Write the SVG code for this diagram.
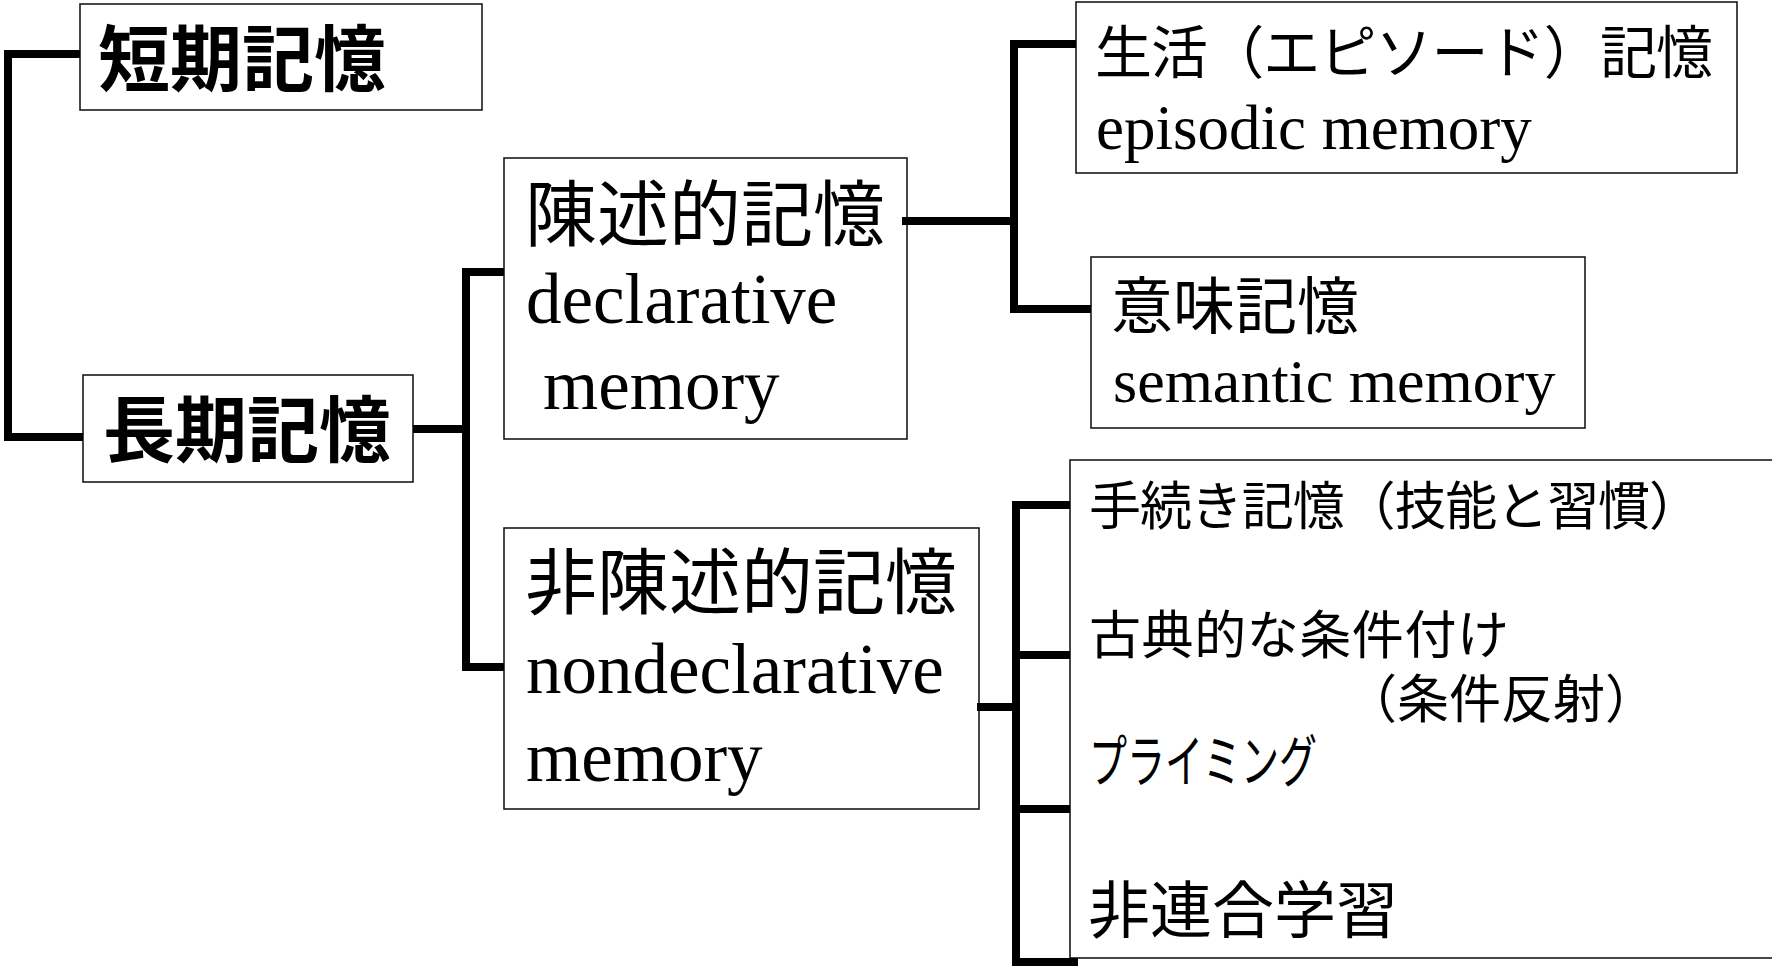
<svg xmlns="http://www.w3.org/2000/svg" width="1772" height="966" viewBox="0 0 1772 966">
<style>
.box{fill:#fff;stroke:#1a1a1a;stroke-width:1.6}
.conn{fill:none;stroke:#000;stroke-width:8;stroke-linejoin:miter;stroke-linecap:butt}
.jp{font-family:"Noto Sans CJK JP","Noto Sans CJK SC",sans-serif;fill:#000}
.jpb{font-family:"Noto Sans CJK JP","Noto Sans CJK SC",sans-serif;font-weight:700;fill:#000}
.en{font-family:"Liberation Serif","Times New Roman",serif;fill:#000}
</style>
<rect width="1772" height="966" fill="#fff"/>
<g id="short-term">
<rect class="box" x="80" y="4" width="402" height="106"/>
<text class="jpb" x="98" y="85" font-size="72">短期記憶</text>
</g>
<g id="long-term">
<rect class="box" x="83" y="375" width="330" height="107"/>
<text class="jpb" x="103" y="456" font-size="72">長期記憶</text>
</g>
<g id="declarative">
<rect class="box" x="504" y="158" width="403" height="281"/>
<text class="jp" x="525" y="240" font-size="72">陳述的記憶</text>
<text class="en" x="526" y="323" font-size="71">declarative</text>
<text class="en" x="543" y="409" font-size="71">memory</text>
</g>
<g id="nondeclarative">
<rect class="box" x="504" y="528" width="475" height="281"/>
<text class="jp" x="525" y="608" font-size="72">非陳述的記憶</text>
<text class="en" x="526" y="693" font-size="71">nondeclarative</text>
<text class="en" x="526" y="781" font-size="71">memory</text>
</g>
<g id="episodic">
<rect class="box" x="1076" y="2" width="661" height="171"/>
<text class="jp" x="1095" y="73" font-size="57" textLength="618" lengthAdjust="spacing">生活（エピソード）記憶</text>
<text class="en" x="1096" y="149" font-size="63">episodic memory</text>
</g>
<g id="semantic">
<rect class="box" x="1091" y="257" width="494" height="171"/>
<text class="jp" x="1111" y="329" font-size="62">意味記憶</text>
<text class="en" x="1113" y="402" font-size="62">semantic memory</text>
</g>
<g id="nondeclarative-types">
<rect class="box" x="1070" y="460" width="720" height="498"/>
<text class="jp" x="1089" y="525" font-size="52" textLength="612" lengthAdjust="spacing">手続き記憶（技能と習慣）</text>
<text class="jp" x="1089" y="654" font-size="52" textLength="420" lengthAdjust="spacing">古典的な条件付け</text>
<text class="jp" x="1345" y="718" font-size="52">（条件反射）</text>
<text class="jp" x="1089" y="782" font-size="57" textLength="228" lengthAdjust="spacingAndGlyphs">プライミング</text>
<text class="jp" x="1088" y="933" font-size="62">非連合学習</text>
</g>
<g id="connectors">
<path class="conn" d="M80,54 H8 V437 H83"/>
<path class="conn" d="M413,429 H466"/>
<path class="conn" d="M504,272 H466 V667 H504"/>
<path class="conn" d="M902,221 H1014"/>
<path class="conn" d="M1076,44 H1014 V309 H1091"/>
<path class="conn" d="M977,707 H1016"/>
<path class="conn" d="M1070,505 H1016 V962 H1078"/>
<path class="conn" d="M1016,655 H1070"/>
<path class="conn" d="M1016,809 H1070"/>
</g>
</svg>
